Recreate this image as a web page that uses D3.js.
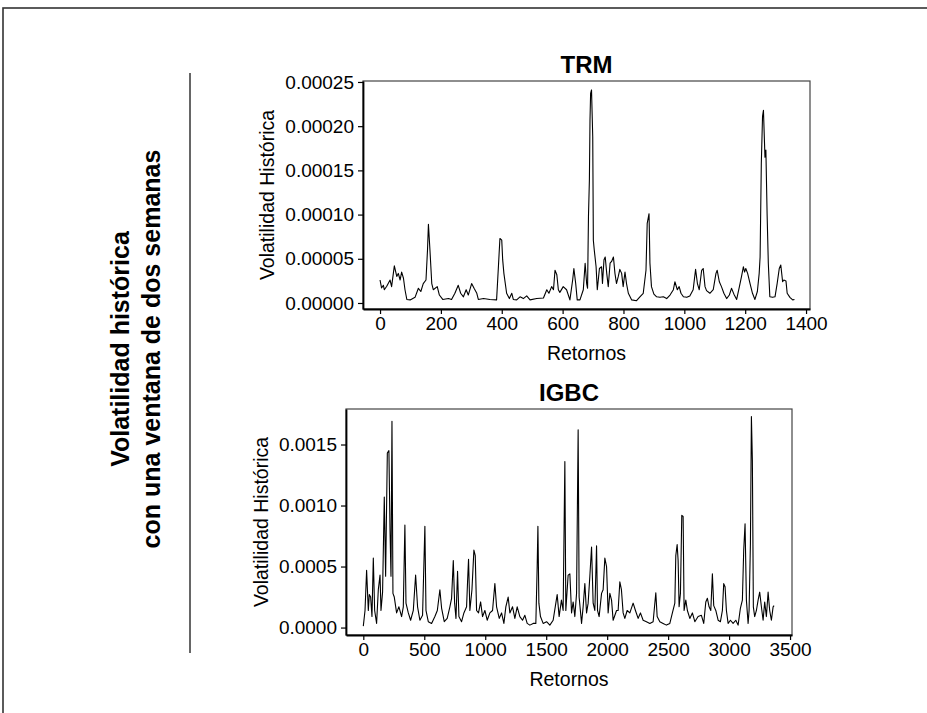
<!DOCTYPE html>
<html>
<head>
<meta charset="utf-8">
<script src="https://cdn.jsdelivr.net/npm/d3@7"></script>
<style>
  body { margin: 0; background: #fff; }
  svg { font-family: "Liberation Sans", Arial, sans-serif; }
</style>
</head>
<body>
<div id="chart"></div>
<script>
// ------ TRM: historical volatility (two-week window) ------
const trmRet = [0, 5, 11, 14, 22, 33, 38, 47, 55, 60, 66, 71, 77, 82, 88, 99, 115, 126, 134, 142, 151, 156, 159, 164, 170, 175,
  188, 195, 206, 225, 235, 246, 257, 265, 274, 283, 290, 301, 309, 318, 323, 340, 361, 383, 389, 394, 400, 403, 407, 416,
  425, 433, 438, 449, 460, 471, 482, 493, 515, 537, 548, 555, 564, 570, 575, 581, 586, 591, 602, 613, 624, 633, 637, 643,
  648, 657, 668, 674, 679, 682, 685, 688, 690, 692, 695, 699, 701, 704, 710, 714, 721, 728, 731, 736, 740, 745, 750, 756,
  761, 767, 772, 777, 783, 788, 794, 799, 805, 810, 816, 827, 843, 854, 865, 874, 878, 884, 887, 892, 900, 909, 920, 931,
  942, 953, 964, 969, 977, 983, 989, 997, 1008, 1018, 1029, 1037, 1043, 1049, 1057, 1062, 1068, 1073, 1084, 1095, 1104,
  1108, 1115, 1122, 1130, 1139, 1148, 1155, 1163, 1172, 1181, 1188, 1194, 1198, 1202, 1208, 1216, 1224, 1232, 1240, 1246,
  1249, 1253, 1257, 1260, 1265, 1268, 1272, 1276, 1281, 1290, 1298, 1305, 1312, 1317, 1323, 1327, 1334, 1338, 1347, 1356, 1362];
const trmVol = [2.6e-5, 1.7e-5, 2.0e-5, 1.5e-5, 1.9e-5, 2.6e-5, 1.85e-5, 4.2e-5, 3.0e-5, 3.35e-5, 2.6e-5, 3.5e-5, 2.8e-5, 1.5e-5, 0.4e-5, 0.35e-5, 0.64e-5, 1.66e-5, 1.3e-5, 2.2e-5, 2.6e-5, 6.0e-5, 8.9e-5, 6.0e-5, 2.2e-5, 1.5e-5,
  1.85e-5, 0.9e-5, 0.4e-5, 0.5e-5, 0.4e-5, 1.1e-5, 2.0e-5, 1.1e-5, 0.7e-5, 1.5e-5, 0.9e-5, 2.2e-5, 1.66e-5, 1.1e-5, 0.4e-5, 0.5e-5, 0.4e-5, 0.35e-5, 4.1e-5, 7.3e-5, 7.1e-5, 4.9e-5, 3.35e-5, 1.1e-5,
  0.5e-5, 1.1e-5, 0.4e-5, 0.35e-5, 0.7e-5, 0.5e-5, 0.8e-5, 0.35e-5, 0.5e-5, 0.56e-5, 1.5e-5, 1.1e-5, 1.85e-5, 1.5e-5, 3.7e-5, 3.2e-5, 1.5e-5, 1.2e-5, 1.85e-5, 1.5e-5, 0.35e-5, 2.6e-5, 3.9e-5, 2.2e-5,
  0.35e-5, 0.35e-5, 1.5e-5, 4.5e-5, 2.2e-5, 1.66e-5, 9.8e-5, 13.9e-5, 20.7e-5, 23.7e-5, 24.1e-5, 18.8e-5, 7.1e-5, 6.0e-5, 4.1e-5, 1.5e-5, 3.9e-5, 4.1e-5, 2.2e-5, 4.9e-5, 5.2e-5, 3.35e-5, 1.85e-5, 4.5e-5,
  4.7e-5, 5.2e-5, 3.35e-5, 2.2e-5, 3.0e-5, 3.8e-5, 3.35e-5, 1.85e-5, 3.5e-5, 2.2e-5, 1.1e-5, 0.35e-5, 0.26e-5, 0.7e-5, 1.1e-5, 3.7e-5, 9.0e-5, 10.1e-5, 4.5e-5, 1.85e-5, 1.0e-5, 0.7e-5, 0.64e-5, 0.7e-5,
  0.5e-5, 0.9e-5, 1.5e-5, 2.4e-5, 1.5e-5, 1.85e-5, 1.1e-5, 0.7e-5, 0.64e-5, 0.8e-5, 1.5e-5, 3.8e-5, 2.2e-5, 1.5e-5, 3.7e-5, 3.9e-5, 1.85e-5, 1.4e-5, 1.1e-5, 1.5e-5, 3.35e-5,
  3.7e-5, 2.4e-5, 1.85e-5, 1.1e-5, 0.5e-5, 0.9e-5, 1.66e-5, 1.0e-5, 0.4e-5, 1.85e-5, 3.0e-5, 4.1e-5, 3.5e-5, 3.9e-5, 3.35e-5, 2.2e-5, 1.1e-5, 0.4e-5, 1.3e-5, 3.35e-5,
  5.2e-5, 15.8e-5, 21.1e-5, 21.8e-5, 16.5e-5, 17.3e-5, 10.1e-5, 4.5e-5, 0.7e-5, 0.64e-5, 0.7e-5, 2.2e-5, 3.9e-5, 4.3e-5, 2.4e-5, 2.6e-5, 2.5e-5, 1.1e-5, 0.64e-5, 0.35e-5, 0.4e-5];
const trmTicksY = [0, 0.00005, 0.0001, 0.00015, 0.0002, 0.00025];
const trmTicksX = [0, 200, 400, 600, 800, 1000, 1200, 1400];

// ------ IGBC: historical volatility (two-week window) ------
const igbcRet = [0, 14, 27, 41, 49, 60, 71, 82, 93, 109, 123, 137, 145, 158, 172, 183, 197, 210, 219, 227, 235, 243, 254, 273, 292, 314,
  328, 341, 350, 369, 388, 410, 429, 445, 464, 486, 505, 514, 533, 560, 587, 607, 628, 642, 664, 688, 710, 724, 738, 749, 760,
  773, 784, 806, 825, 847, 855, 863, 874, 891, 907, 918, 929, 945, 962, 978, 997, 1016, 1038, 1060, 1079, 1093, 1115, 1134,
  1153, 1169, 1188, 1202, 1224, 1243, 1262, 1284, 1306, 1325, 1344, 1366, 1393, 1415, 1426, 1432, 1440, 1453, 1475, 1503,
  1530, 1557, 1579, 1590, 1606, 1625, 1639, 1653, 1661, 1680, 1694, 1708, 1721, 1735, 1749, 1762, 1770, 1790, 1803, 1817,
  1831, 1844, 1858, 1872, 1885, 1899, 1913, 1921, 1934, 1954, 1967, 1981, 1995, 2008, 2022, 2036, 2049, 2077, 2090, 2104,
  2117, 2131, 2145, 2164, 2186, 2213, 2232, 2254, 2273, 2295, 2322, 2350, 2377, 2399, 2410, 2432, 2459, 2486, 2514, 2535,
  2555, 2563, 2574, 2582, 2590, 2601, 2612, 2623, 2631, 2645, 2658, 2678, 2699, 2719, 2746, 2773, 2792, 2809, 2822, 2836,
  2850, 2863, 2874, 2891, 2910, 2929, 2945, 2956, 2967, 2978, 2992, 3011, 3033, 3055, 3074, 3093, 3109, 3120, 3131, 3142,
  3156, 3164, 3175, 3183, 3191, 3199, 3210, 3224, 3238, 3251, 3265, 3279, 3292, 3306, 3320, 3333, 3347, 3361, 3369];
const igbcVol = [0.12e-4, 1.4e-4, 4.7e-4, 1.4e-4, 2.7e-4, 2.5e-4, 0.9e-4, 5.7e-4, 1.4e-4, 0.34e-4, 3.1e-4, 4.3e-4, 1.4e-4, 2.9e-4, 10.7e-4, 4.2e-4, 14.3e-4, 14.5e-4, 8.0e-4, 4.2e-4, 16.9e-4, 2.8e-4, 2.5e-4, 1.2e-4, 1.7e-4, 0.9e-4,
  1.7e-4, 8.4e-4, 2.0e-4, 1.2e-4, 0.6e-4, 1.4e-4, 4.3e-4, 1.7e-4, 0.6e-4, 1.0e-4, 8.3e-4, 1.4e-4, 0.48e-4, 0.34e-4, 0.9e-4, 1.4e-4, 3.1e-4, 1.6e-4, 0.48e-4, 0.75e-4, 1.7e-4, 2.4e-4, 5.5e-4, 2.0e-4, 0.75e-4,
  4.6e-4, 0.9e-4, 0.48e-4, 1.2e-4, 1.7e-4, 3.75e-4, 5.6e-4, 1.4e-4, 3.1e-4, 6.35e-4, 5.9e-4, 1.4e-4, 1.2e-4, 2.1e-4, 0.9e-4, 1.4e-4, 0.6e-4, 1.2e-4, 1.4e-4, 3.6e-4, 1.7e-4, 0.75e-4, 1.2e-4,
  0.34e-4, 1.7e-4, 2.5e-4, 1.2e-4, 1.7e-4, 0.75e-4, 1.7e-4, 0.9e-4, 0.6e-4, 1.0e-4, 0.34e-4, 0.2e-4, 0.34e-4, 0.34e-4, 5.0e-4, 8.3e-4, 2.0e-4, 0.9e-4, 0.34e-4, 0.48e-4,
  0.2e-4, 0.6e-4, 2.0e-4, 2.7e-4, 0.9e-4, 2.25e-4, 1.4e-4, 13.6e-4, 1.4e-4, 4.3e-4, 4.4e-4, 1.2e-4, 2.1e-4, 0.9e-4, 2.8e-4, 16.2e-4, 2.5e-4, 0.34e-4, 1.7e-4, 3.6e-4,
  1.2e-4, 2.0e-4, 4.2e-4, 6.6e-4, 2.0e-4, 1.4e-4, 6.7e-4, 1.4e-4, 0.9e-4, 2.8e-4, 3.1e-4, 5.7e-4, 5.0e-4, 1.2e-4, 2.8e-4, 2.25e-4, 0.6e-4, 1.4e-4, 1.4e-4, 3.75e-4,
  3.1e-4, 1.2e-4, 0.75e-4, 1.4e-4, 1.2e-4, 2.0e-4, 1.4e-4, 0.75e-4, 1.2e-4, 0.6e-4, 0.48e-4, 0.34e-4, 0.48e-4, 2.85e-4, 0.9e-4, 0.48e-4, 0.34e-4, 0.2e-4, 0.34e-4, 1.2e-4,
  2.0e-4, 5.9e-4, 6.8e-4, 5.5e-4, 1.7e-4, 2.8e-4, 9.2e-4, 9.1e-4, 1.4e-4, 2.25e-4, 1.4e-4, 0.75e-4, 1.2e-4, 0.48e-4, 0.9e-4, 1.0e-4, 0.34e-4, 2.1e-4, 2.4e-4, 1.7e-4,
  1.4e-4, 4.4e-4, 1.8e-4, 1.4e-4, 0.6e-4, 0.48e-4, 1.4e-4, 3.6e-4, 3.35e-4, 1.4e-4, 0.34e-4, 0.6e-4, 0.34e-4, 0.6e-4, 0.2e-4, 1.6e-4, 2.25e-4, 6.35e-4, 8.5e-4, 2.25e-4,
  0.34e-4, 1.4e-4, 6.9e-4, 17.3e-4, 13.7e-4, 1.7e-4, 0.9e-4, 1.4e-4, 2.25e-4, 2.9e-4, 1.7e-4, 0.6e-4, 2.1e-4, 0.9e-4, 2.9e-4, 1.4e-4, 0.6e-4, 1.7e-4, 1.8e-4];
const igbcTicksY = [0, 0.0005, 0.001, 0.0015];
const igbcTicksX = [0, 500, 1000, 1500, 2000, 2500, 3000, 3500];

const width = 927, height = 713;

const svg = d3.select("#chart")
  .append("svg")
  .attr("width", width)
  .attr("height", height);

svg.append("rect")
  .attr("width", width).attr("height", height)
  .attr("fill", "#fff");

// outer frame (cut by the picture edge on right and bottom)
svg.append("rect")
  .attr("x", 3).attr("y", 8)
  .attr("width", width + 10).attr("height", height + 10)
  .attr("fill", "none")
  .attr("stroke", "#333")
  .attr("stroke-width", 1.6);

// shared side title
const side = svg.append("text")
  .attr("transform", "translate(0,349) rotate(-90)")
  .attr("text-anchor", "middle")
  .attr("font-weight", "bold")
  .attr("font-size", 25)
  .attr("fill", "#000");
side.append("tspan").attr("x", 0).attr("y", 129).text("Volatilidad histórica");
side.append("tspan").attr("x", 0).attr("y", 160).text("con una ventana de dos semanas");

svg.append("line")
  .attr("x1", 190).attr("x2", 190)
  .attr("y1", 73).attr("y2", 653)
  .attr("stroke", "#333")
  .attr("stroke-width", 1.5);

function panel(cfg) {
  const { box, xDomain, yDomain, ret, vol, ticksX, ticksY, fmt, title, ylabelX } = cfg;
  const x = d3.scaleLinear().domain(xDomain).range([box.left, box.right]);
  const y = d3.scaleLinear().domain(yDomain).range([box.bottom, box.top]);
  const g = svg.append("g");

  g.append("rect")
    .attr("x", box.left).attr("y", box.top)
    .attr("width", box.right - box.left).attr("height", box.bottom - box.top)
    .attr("fill", "none")
    .attr("stroke", "#444")
    .attr("stroke-width", 1.2);

  const pts = ret.map((r, i) => [r, vol[i]]);
  g.append("path")
    .datum(pts)
    .attr("fill", "none")
    .attr("stroke", "#000")
    .attr("stroke-width", 1.1)
    .attr("stroke-linejoin", "round")
    .attr("d", d3.line().x(d => x(d[0])).y(d => y(d[1])));

  const ax = g.append("g")
    .attr("transform", `translate(0,${box.bottom})`)
    .call(d3.axisBottom(x).tickValues(ticksX).tickSize(5).tickSizeOuter(0).tickPadding(3).tickFormat(d3.format("d")));
  const ay = g.append("g")
    .attr("transform", `translate(${box.left},0)`)
    .call(d3.axisLeft(y).tickValues(ticksY).tickSize(5).tickSizeOuter(0).tickPadding(4).tickFormat(d3.format(fmt)));

  [ax, ay].forEach(a => {
    a.attr("font-family", null);
    a.selectAll("text").attr("font-size", 19).attr("fill", "#000");
    a.selectAll("line").attr("stroke", "#000").attr("stroke-width", 1.2);
    a.select(".domain").attr("stroke", "#000").attr("stroke-width", 1.8);
  });

  g.append("text")
    .attr("x", (box.left + box.right) / 2).attr("y", box.top - 8)
    .attr("text-anchor", "middle")
    .attr("font-weight", "bold")
    .attr("font-size", 24)
    .text(title);

  g.append("text")
    .attr("x", (box.left + box.right) / 2).attr("y", box.bottom + 51)
    .attr("text-anchor", "middle")
    .attr("font-size", 19.5)
    .text("Retornos");

  g.append("text")
    .attr("transform", `translate(${ylabelX},${(box.top + box.bottom) / 2}) rotate(-90)`)
    .attr("text-anchor", "middle")
    .attr("font-size", 19.5)
    .text("Volatilidad Histórica");
}

panel({
  box: { left: 363, right: 810, top: 81, bottom: 309 },
  xDomain: [-56, 1413], yDomain: [-0.0000068, 0.0002511],
  ret: trmRet, vol: trmVol, ticksX: trmTicksX, ticksY: trmTicksY,
  fmt: ".5f", title: "TRM", ylabelX: 274
});

panel({
  box: { left: 346, right: 792, top: 409, bottom: 635 },
  xDomain: [-142, 3516], yDomain: [-0.000061, 0.001791],
  ret: igbcRet, vol: igbcVol, ticksX: igbcTicksX, ticksY: igbcTicksY,
  fmt: ".4f", title: "IGBC", ylabelX: 268
});
</script>
</body>
</html>
